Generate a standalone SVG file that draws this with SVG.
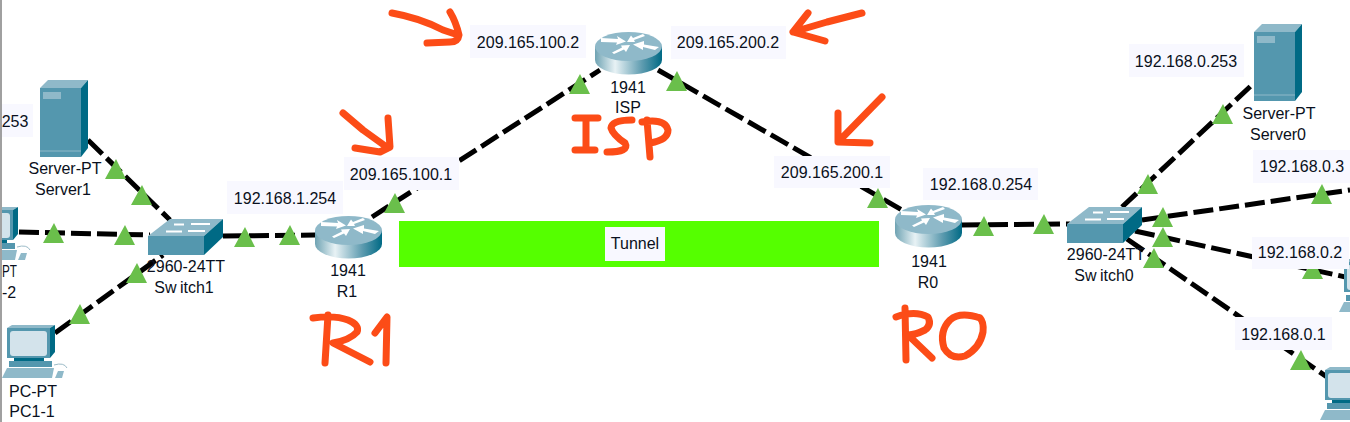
<svg xmlns="http://www.w3.org/2000/svg" width="1350" height="422" viewBox="0 0 1350 422">
<style>
text{font-family:"Liberation Sans",Arial,sans-serif;font-size:16px;fill:#0a1020;text-anchor:middle}
.lb{fill:#f8f8ff}
.cn{fill:none;stroke:#000;stroke-width:5;stroke-dasharray:20 6}
.ink{fill:none;stroke:#fc4c17;stroke-width:7;stroke-linecap:round;stroke-linejoin:round}
.tr{fill:#6abf4b}
</style>
<defs>
<linearGradient id="rb" x1="0" x2="1" y1="0" y2="0"><stop offset="0" stop-color="#6fa3b3"/><stop offset=".3" stop-color="#e8f2f5"/><stop offset=".7" stop-color="#5f9cb0"/><stop offset="1" stop-color="#006a85"/></linearGradient>
<symbol id="router" overflow="visible">
<path d="M0 14.5V28A33.5 14.5 0 0 0 67 28V14.5Z" fill="url(#rb)"/>
<ellipse cx="33.5" cy="14.5" rx="33.5" ry="14.5" fill="#8fb9c9"/>
<path d="M6 6L23 7L22 4L31 9.500L21 13L22 10.500L6 10ZM64 15L49 12.500L49 9L38 12.500L48 18L48 15L60 18ZM48 2L38 6L36 3.500L32 10L40 10L39 8L50 4ZM19 22L29 17.500L31 20L35 13L26 13.500L27 15.500L17 20.500Z" fill="#fff"/>
</symbol>
<symbol id="switch" overflow="visible">
<path d="M0 17L22 0H75L56 17Z" fill="#8fb9c9"/>
<path d="M0 17H56V36H0Z" fill="#5497ae"/>
<path d="M56 17L75 0V18L56 36Z" fill="#006a85"/>
<path d="M26 5.500H36M43 5H62M18 12.500H34M40 12H57" stroke="#fff" stroke-width="2"/>
</symbol>
<symbol id="server" overflow="visible">
<path d="M0 8L8 0H48L41 8Z" fill="#8fb9c9"/>
<path d="M0 8H41V77H0Z" fill="#5497ae"/>
<path d="M41 8L48 0V68L41 77Z" fill="#006a85"/>
<rect x="3" y="12" width="18" height="7" fill="#8fb9c9"/>
<path d="M0 71H41" stroke="#8fb9c9"/>
</symbol>
<symbol id="pc" overflow="visible">
<path d="M5 4L10 1H53L48 4Z" fill="#8fb9c9"/>
<path d="M48 4L53 1V28L48 34Z" fill="#006a85"/>
<path d="M5 4H48V34H5Z" fill="#5497ae"/>
<rect x="8" y="7" width="37" height="25" rx="3" fill="#d3e3eb"/>
<path d="M12 34H42V37H12Z" fill="#006a85"/>
<path d="M7 37H50V43H7Z" fill="#5497ae"/>
<path d="M0 54L5 44H52L50 54Z" fill="#8fb9c9"/>
<path d="M53 54L56 47H62L60 54Z" fill="#8fb9c9"/>
<path d="M52 41Q62 38 65 44" stroke="#9dbcc8" fill="none"/>
</symbol>
</defs>
<rect width="1350" height="422" fill="#fff"/>
<rect id="tunnel" x="399" y="221" width="480" height="46" fill="#55ff00"/>
<g id="connectors">
<path class="cn" d="M88 140L170 220"/>
<path class="cn" d="M19 232L150 235"/>
<path class="cn" d="M55 333L163 255"/>
<path class="cn" d="M223 236L315 235"/>
<path class="cn" d="M372 217L600 70"/>
<path class="cn" d="M658 70L902 210"/>
<path class="cn" d="M962 225L1070 224"/>
<path class="cn" d="M1122 207L1254 83"/>
<path class="cn" d="M1142 220L1350 190"/>
<path class="cn" d="M1135 231L1350 278"/>
<path class="cn" d="M1127 239L1327 377"/>
</g>
<g id="server1"><use href="#server" x="40" y="80"/><text x="65" y="174">Server-PT</text><text x="63" y="195">Server1</text></g>
<g id="pc2"><use href="#pc" x="-35" y="206"/><text x="2" y="277" style="text-anchor:start" textLength="15" lengthAdjust="spacingAndGlyphs">PT</text><text x="9" y="298">-2</text></g>
<g id="pc1"><use href="#pc" x="2" y="324"/><text x="33" y="397">PC-PT</text><text x="32" y="417">PC1-1</text></g>
<g id="switch1"><use href="#switch" x="148" y="219"/><text x="186" y="272">2960-24TT</text><text x="184" y="293" word-spacing="-1">Sw itch1</text></g>
<g id="r1"><use href="#router" x="315" y="216"/><text x="348" y="276">1941</text><text x="347" y="297">R1</text></g>
<g id="isp"><use href="#router" x="595" y="32"/><text x="628" y="93">1941</text><text x="628" y="113">ISP</text></g>
<g id="r0"><use href="#router" x="895" y="205"/><text x="929" y="267">1941</text><text x="928" y="288">R0</text></g>
<g id="switch0"><use href="#switch" x="1067" y="207"/><text x="1106" y="260">2960-24TT</text><text x="1104" y="281" word-spacing="-1">Sw itch0</text></g>
<g id="server0"><use href="#server" x="1254" y="24"/><text x="1279" y="119">Server-PT</text><text x="1278" y="140">Server0</text></g>
<g id="pc3"><use href="#pc" x="1320" y="366"/></g>
<g id="pc4"><use href="#pc" x="1339" y="258"/></g>
<g id="ports">
<path class="tr" d="M116 159l10 20h-21zM142 185l10 20h-21zM54 223l10 20h-21zM125 225l10 20h-21zM245 227l10 20h-21zM290 225l10 20h-21zM137 263l10 20h-21zM80 304l10 20h-21zM395 193l10 20h-21zM580 74l10 20h-21zM677 71l10 20h-21zM878 188l10 20h-21zM984 216l10 20h-21zM1044 214l10 20h-21zM1223 104l10 20h-21zM1148 174l10 20h-21zM1322 184l10 20h-21zM1163 207l10 20h-21zM1163 227l10 20h-21zM1154 248l10 20h-21zM1313 259l10 20h-21zM1301 350l10 20h-21z"/>
</g>
<g id="labels">
<rect class="lb" x="2" y="104" width="31" height="33"/><text x="15" y="127">253</text>
<rect class="lb" x="227" y="181" width="116" height="33"/><text x="285" y="204">192.168.1.254</text>
<rect class="lb" x="344" y="157" width="115" height="33"/><text x="401" y="180">209.165.100.1</text>
<rect class="lb" x="470" y="25" width="116" height="33"/><text x="528" y="48">209.165.100.2</text>
<rect class="lb" x="671" y="26" width="115" height="33"/><text x="728" y="48">209.165.200.2</text>
<rect class="lb" x="774" y="156" width="116" height="32"/><text x="832" y="178">209.165.200.1</text>
<rect class="lb" x="923" y="168" width="115" height="32"/><text x="981" y="190">192.168.0.254</text>
<rect class="lb" x="1129" y="44" width="115" height="33"/><text x="1186" y="67">192.168.0.253</text>
<rect class="lb" x="1253" y="150" width="97" height="33"/><text x="1302" y="172">192.168.0.3</text>
<rect class="lb" x="1252" y="237" width="97" height="32"/><text x="1300" y="258">192.168.0.2</text>
<rect class="lb" x="1235" y="317" width="97" height="33"/><text x="1283.500" y="340">192.168.0.1</text>
<rect class="lb" x="605" y="227" width="60" height="34"/><text x="635" y="249">Tunnel</text>
</g>
<rect x="0" y="0" width="2" height="422" fill="#a0a0a0"/>
<g id="annotations">
<path class="ink" d="M392 13Q420 18 443 30L458 35M450 12Q456 22 459 35Q458 42 450 42L427 43"/>
<path class="ink" d="M343 113L363 130L388 148M388 118L390 147L380 152L355 148"/>
<path class="ink" d="M862 13L827 22L793 32M808 13L793 32L825 41"/>
<path class="ink" d="M882 97L840 140M838 113L838 142L870 143"/>
<path class="ink" d="M575 118H598M586 118L586 150M575 150H595M632 120Q612 120 611 128Q613 135 625 143Q630 152 607 152M647 120L650 157M642 122Q665 118 668 130Q668 140 650 143"/>
<path class="ink" d="M313 318Q335 315 348 320Q360 325 357 332Q350 340 333 343L370 362M328 315L325 363M375 333L387 317L386 363"/>
<path class="ink" d="M905 308L906 360M896 317Q915 310 928 317Q932 325 925 330Q915 335 908 335L932 358M980 318Q960 311 950 320Q939 331 944 348Q951 360 965 356Q980 348 983 332Q984 322 980 318"/>
</g>
</svg>
